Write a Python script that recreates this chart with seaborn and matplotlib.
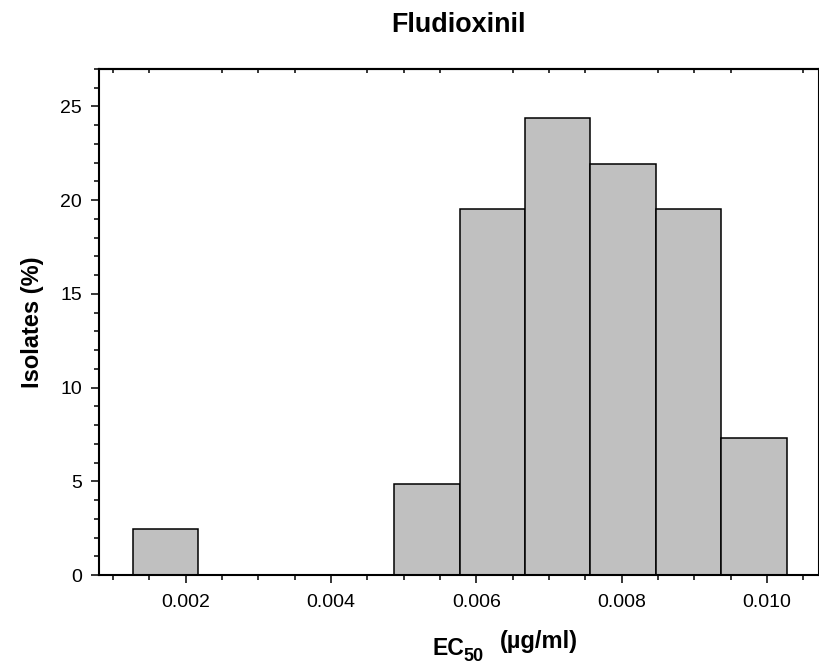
import numpy as np
import matplotlib
matplotlib.use("Agg")
import matplotlib.pyplot as plt
from matplotlib.ticker import MultipleLocator, FormatStrFormatter, FixedLocator
import seaborn as sns

# ---- data ----
bin_edges = [0.00127, 0.00217, 0.00307, 0.00397, 0.00487, 0.00577,
             0.00667, 0.00757, 0.00847, 0.00937, 0.01027]
isolates_pct = [2.44, 0.0, 0.0, 0.0, 4.88, 19.51, 24.39, 21.95, 19.51, 7.32]
x_ticks = [0.002, 0.004, 0.006, 0.008, 0.010]
y_ticks = [0, 5, 10, 15, 20, 25]
title = "Fludioxinil"
ylabel = "Isolates (%)"

sns.set_style("ticks")
plt.rcParams["font.family"] = ["Liberation Sans", "DejaVu Sans"]
plt.rcParams["text.color"] = "black"
plt.rcParams["axes.labelcolor"] = "black"
plt.rcParams["xtick.color"] = "black"
plt.rcParams["ytick.color"] = "black"

fig = plt.figure(figsize=(8.19, 6.69), dpi=100)
ax = fig.add_axes([99.3 / 819, 1 - 575 / 669, (818.5 - 99.3) / 819, (575 - 69) / 669])

edges = np.array(bin_edges)
centers = (edges[:-1] + edges[1:]) / 2
sns.histplot(x=centers, weights=isolates_pct, bins=bin_edges, stat="count",
             color="#C0C0C0", edgecolor="black", linewidth=1.1, alpha=1.0,
             ax=ax)

ax.set_xlim(0.00081, 0.01071)
ax.set_ylim(0, 27)
ax.set_xticks(x_ticks)
ax.xaxis.set_major_formatter(FormatStrFormatter("%.3f"))
ax.xaxis.set_minor_locator(MultipleLocator(0.0005))
ax.set_yticks(y_ticks)
ax.yaxis.set_minor_locator(MultipleLocator(1))

for s in ax.spines.values():
    s.set_visible(True)
    s.set_linewidth(1.5)
    s.set_color("black")

ax.tick_params(which="major", direction="out", length=6, width=1.1,
               labelsize=14, colors="black", labelcolor="black",
               top=False, right=False)
ax.tick_params(axis="x", which="major", pad=8)
ax.tick_params(axis="y", which="major", pad=6.5)
ax.tick_params(which="minor", direction="out", length=3.4, width=1.1,
               colors="black", top=False, right=False)

# inward minor ticks on the top spine (only between the labelled positions)
top_minor = [t for t in np.arange(0.001, 0.0106, 0.0005)
             if min(abs(t - m) for m in x_ticks) > 1e-6]
sec = ax.secondary_xaxis("top")
sec.set_xticks([])
sec.xaxis.set_minor_locator(FixedLocator(top_minor))
sec.tick_params(which="minor", direction="in", length=3, width=1.1,
                colors="black")
sec.spines["top"].set_linewidth(1.5)
sec.spines["top"].set_color("black")

ax.set_title(title, fontsize=19.4, fontweight="bold", pad=27, color="black")

ax.set_ylabel(ylabel, fontsize=17, fontweight="bold", color="black")
ax.yaxis.set_label_coords(-0.0935, 0.5)
ax.yaxis.label.set_va("center")
ax.set_xlabel("")

# x-axis label: EC50 (µg/ml)
fig.text(432 / 819, 1 - 655 / 669, "EC", fontsize=16.6, fontweight="bold",
         ha="left", va="baseline", color="black")
fig.text(463 / 819, 1 - 661 / 669, "50", fontsize=13, fontweight="bold",
         ha="left", va="baseline", color="black")
fig.text(500 / 819, 1 - 648 / 669, "(µg/ml)", fontsize=17, fontweight="bold",
         ha="left", va="baseline", color="black")

fig.savefig("out.png", dpi=100)
